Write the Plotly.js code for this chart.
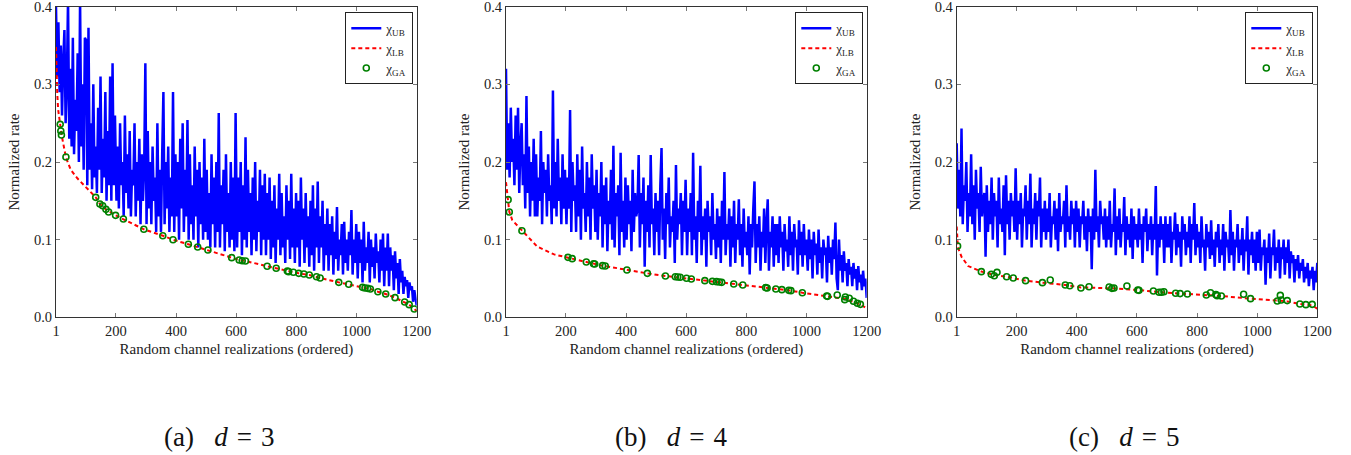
<!DOCTYPE html>
<html>
<head>
<meta charset="utf-8">
<script src="https://cdn.plot.ly/plotly-3.0.1.min.js"></script>
<style>
  html, body { margin: 0; padding: 0; background: #ffffff; }
  #chart { width: 1351px; height: 455px; }
  #chart svg text, #chart svg tspan { font-family: 'Liberation Serif', 'Times New Roman', Times, serif !important; }
</style>
</head>
<body>
<div id="chart"></div>
<script>
// ---------------- data ----------------
const xTicks = [1, 200, 400, 600, 800, 1000, 1200];
const yTicks = [0, 0.1, 0.2, 0.3, 0.4];
const xTitle = 'Random channel realizations (ordered)';
const yTitle = 'Normalized rate';
const captions = ['(a)', '(b)', '(c)'];
const dValues = [3, 4, 5];
const seriesNames = ['χ<sub>UB</sub>', 'χ<sub>LB</sub>', 'χ<sub>GA</sub>'];

// d = 3 : upper bound sampled along the ordered realizations 1..1200
const ub3 = [
0.40,0.31,0.38,0.29,0.35,0.26,0.33,0.37,0.25,0.30,0.41,0.23,0.32,0.22,0.36,0.21,0.28,0.24,0.34,0.20,0.41,0.22,0.30,0.19,0.36,
0.357,0.17,0.373,0.19,0.25,0.165,0.30,0.18,0.22,0.16,0.27,0.19,0.31,0.16,0.23,0.18,0.29,0.15,0.24,0.17,0.31,0.15,0.327,0.17,0.26,
0.15,0.22,0.14,0.25,0.17,0.20,0.13,0.26,0.16,0.21,0.14,0.24,0.13,0.19,0.17,0.25,0.13,0.20,0.15,0.23,0.12,0.21,0.15,0.19,0.327,
0.12,0.24,0.14,0.20,0.12,0.22,0.15,0.18,0.11,0.25,0.13,0.19,0.11,0.21,0.29,0.12,0.20,0.14,0.22,0.11,0.18,0.13,0.29,0.11,0.21,
0.13,0.20,0.10,0.23,0.14,0.25,0.11,0.19,0.13,0.254,0.10,0.21,0.12,0.17,0.10,0.22,0.13,0.19,0.09,0.20,0.12,0.18,0.10,0.23,0.11,
0.19,0.10,0.16,0.09,0.21,0.12,0.18,0.09,0.20,0.11,0.263,0.09,0.17,0.12,0.19,0.085,0.21,0.11,0.16,0.09,0.20,0.10,0.18,0.085,0.263,
0.09,0.18,0.11,0.20,0.08,0.17,0.10,0.232,0.09,0.19,0.11,0.16,0.08,0.18,0.10,0.20,0.085,0.15,0.11,0.19,0.08,0.17,0.10,0.185,0.08,
0.16,0.10,0.18,0.075,0.15,0.09,0.17,0.07,0.14,0.10,0.185,0.08,0.16,0.09,0.13,0.07,0.17,0.10,0.15,0.075,0.185,0.09,0.14,0.07,0.16,
0.09,0.15,0.065,0.18,0.10,0.14,0.07,0.16,0.09,0.13,0.065,0.15,0.08,0.17,0.06,0.14,0.09,0.175,0.07,0.13,0.09,0.15,0.06,0.12,0.08,
0.14,0.06,0.12,0.08,0.13,0.055,0.11,0.075,0.142,0.06,0.10,0.08,0.12,0.055,0.123,0.07,0.10,0.06,0.11,0.08,0.138,0.055,0.10,0.07,0.12,
0.05,0.11,0.07,0.10,0.045,0.123,0.06,0.09,0.07,0.11,0.045,0.10,0.065,0.09,0.05,0.108,0.07,0.085,0.045,0.10,0.06,0.108,0.04,0.09,0.06,
0.108,0.04,0.09,0.06,0.08,0.035,0.085,0.05,0.07,0.03,0.075,0.045,0.06,0.03,0.052,0.04,0.048,0.025,0.045,0.035,0.04,0.02,0.035,0.025,0.015];
const lbX3 = [1,3,5,8,14,20,34,50,72,105,133,147,167,199,225,293,356,390,441,472,506,585,610,631,703,733,770,808,843,879,941,974,1020,1046,1071,1097,1128,1160,1175,1192,1200];
const lbY3 = [0.348,0.31,0.29,0.268,0.25,0.234,0.206,0.19,0.179,0.166,0.1545,0.1459,0.139,0.1313,0.1266,0.1133,0.1051,0.0999,0.094,0.0905,0.0867,0.0768,0.0738,0.0725,0.0657,0.0631,0.0596,0.0566,0.0545,0.0506,0.045,0.0425,0.0386,0.0364,0.033,0.030,0.0253,0.0197,0.0163,0.0107,0.008];
const gaX3 = [15,17,19,34,133,147,156,167,176,199,225,293,356,390,441,472,506,585,610,620,631,703,733,770,774,790,808,825,843,867,879,941,974,1020,1028,1037,1046,1071,1097,1128,1160,1175,1192];
const gaY3 = [0.2485,0.240,0.2347,0.2064,0.1545,0.1459,0.1437,0.139,0.1356,0.1313,0.1266,0.1133,0.1051,0.0999,0.094,0.0905,0.0867,0.0768,0.0738,0.0729,0.0725,0.0657,0.0631,0.0596,0.0588,0.058,0.0566,0.0558,0.0545,0.0523,0.0506,0.045,0.0425,0.0386,0.0377,0.0373,0.0364,0.033,0.030,0.0253,0.0197,0.0163,0.0107];

// d = 4
const ub4 = [
0.32,0.19,0.25,0.18,0.27,0.20,0.23,0.17,0.26,0.19,0.27,0.16,0.22,0.25,0.17,0.21,0.14,0.285,0.16,0.22,0.13,0.20,0.15,0.23,0.13,
0.21,0.13,0.18,0.15,0.24,0.12,0.20,0.16,0.19,0.13,0.21,0.15,0.17,0.12,0.292,0.14,0.20,0.13,0.23,0.15,0.18,0.12,0.21,0.14,0.19,
0.12,0.18,0.14,0.267,0.11,0.20,0.15,0.17,0.11,0.21,0.13,0.19,0.10,0.22,0.14,0.16,0.11,0.20,0.13,0.18,0.10,0.21,0.14,0.17,0.11,
0.19,0.10,0.16,0.13,0.20,0.09,0.17,0.12,0.18,0.085,0.15,0.12,0.19,0.10,0.221,0.09,0.16,0.13,0.17,0.08,0.212,0.11,0.15,0.09,0.18,
0.10,0.17,0.12,0.15,0.085,0.19,0.11,0.16,0.13,0.14,0.209,0.09,0.16,0.12,0.18,0.065,0.15,0.11,0.17,0.09,0.209,0.12,0.14,0.08,0.16,
0.11,0.15,0.08,0.17,0.218,0.10,0.14,0.075,0.16,0.12,0.18,0.09,0.13,0.11,0.15,0.07,0.196,0.10,0.14,0.12,0.16,0.08,0.15,0.11,0.177,
0.08,0.14,0.11,0.16,0.08,0.212,0.10,0.13,0.07,0.15,0.11,0.195,0.08,0.13,0.10,0.14,0.065,0.15,0.11,0.13,0.08,0.16,0.10,0.12,0.075,
0.14,0.09,0.13,0.07,0.15,0.10,0.187,0.08,0.12,0.10,0.14,0.065,0.13,0.09,0.15,0.07,0.12,0.10,0.152,0.08,0.12,0.065,0.14,0.09,0.11,
0.08,0.13,0.055,0.12,0.09,0.14,0.175,0.07,0.12,0.09,0.13,0.06,0.11,0.09,0.14,0.07,0.12,0.152,0.06,0.11,0.09,0.13,0.065,0.12,0.08,
0.12,0.07,0.13,0.09,0.11,0.06,0.12,0.085,0.10,0.065,0.13,0.08,0.11,0.06,0.12,0.09,0.10,0.055,0.125,0.08,0.11,0.065,0.12,0.08,0.10,
0.06,0.113,0.075,0.10,0.05,0.11,0.08,0.095,0.055,0.113,0.07,0.09,0.05,0.10,0.08,0.09,0.045,0.105,0.07,0.09,0.055,0.10,0.075,0.122,0.05,
0.035,0.10,0.06,0.08,0.045,0.085,0.06,0.07,0.04,0.075,0.055,0.065,0.04,0.07,0.05,0.062,0.035,0.066,0.045,0.055,0.035,0.06,0.04,0.05,0.025];
const lbX4 = [1,8,12,22,54,105,161,207,268,322,403,471,531,601,662,718,788,864,941,986,1067,1129,1156,1179,1200];
const lbY4 = [0.174,0.151,0.136,0.125,0.1115,0.091,0.081,0.0772,0.0712,0.0665,0.0609,0.0566,0.0532,0.0502,0.0472,0.045,0.0416,0.038,0.0347,0.0317,0.0274,0.0235,0.020,0.0165,0.0116];
const gaX4 = [8,12,54,207,221,268,292,296,322,331,403,471,531,564,572,580,601,617,662,687,701,710,718,758,788,864,869,898,918,941,948,986,1067,1070,1102,1129,1127,1142,1156,1169,1179];
const gaY4 = [0.1515,0.1356,0.1115,0.0772,0.0755,0.0712,0.069,0.0686,0.0665,0.066,0.0609,0.0566,0.0532,0.0523,0.0519,0.0515,0.0502,0.0493,0.0472,0.0463,0.0459,0.0455,0.045,0.0429,0.0416,0.0382,0.0377,0.0364,0.0356,0.0347,0.0343,0.0317,0.0274,0.027,0.0287,0.0262,0.0227,0.0245,0.0206,0.018,0.0167];

// d = 5
const ub5 = [
0.224,0.14,0.19,0.13,0.243,0.12,0.17,0.15,0.20,0.11,0.16,0.13,0.21,0.12,0.17,0.10,0.19,0.14,0.16,0.11,0.194,0.13,0.15,0.16,0.078,
0.17,0.11,0.15,0.12,0.18,0.10,0.16,0.13,0.15,0.09,0.18,0.12,0.14,0.11,0.17,0.08,0.183,0.12,0.15,0.10,0.16,0.13,0.15,0.11,0.192,
0.10,0.15,0.12,0.16,0.09,0.14,0.13,0.17,0.10,0.15,0.12,0.185,0.09,0.14,0.12,0.16,0.10,0.15,0.13,0.18,0.09,0.14,0.11,0.15,0.10,
0.14,0.11,0.16,0.09,0.13,0.12,0.15,0.10,0.14,0.085,0.16,0.11,0.13,0.12,0.15,0.09,0.17,0.11,0.13,0.10,0.15,0.12,0.14,0.09,0.15,
0.11,0.14,0.09,0.13,0.12,0.15,0.10,0.13,0.085,0.14,0.11,0.13,0.062,0.14,0.10,0.19,0.11,0.13,0.09,0.15,0.12,0.13,0.10,0.14,0.09,
0.13,0.10,0.15,0.09,0.12,0.11,0.166,0.08,0.13,0.10,0.14,0.09,0.12,0.11,0.155,0.08,0.13,0.10,0.12,0.09,0.14,0.075,0.13,0.10,0.12,
0.09,0.14,0.10,0.12,0.07,0.13,0.11,0.14,0.085,0.12,0.10,0.13,0.08,0.12,0.10,0.169,0.054,0.12,0.09,0.13,0.10,0.12,0.07,0.13,0.09,
0.12,0.09,0.13,0.07,0.11,0.10,0.135,0.08,0.12,0.09,0.11,0.065,0.13,0.10,0.12,0.08,0.11,0.09,0.13,0.07,0.12,0.10,0.147,0.08,0.12,
0.09,0.11,0.07,0.13,0.09,0.10,0.06,0.12,0.09,0.11,0.075,0.125,0.08,0.10,0.065,0.11,0.09,0.12,0.07,0.10,0.08,0.12,0.06,0.11,0.09,
0.10,0.07,0.138,0.08,0.11,0.06,0.10,0.09,0.12,0.07,0.10,0.08,0.115,0.06,0.10,0.085,0.13,0.055,0.10,0.08,0.11,0.07,0.10,0.06,0.11,
0.07,0.113,0.06,0.09,0.08,0.10,0.042,0.09,0.07,0.108,0.05,0.09,0.08,0.113,0.06,0.09,0.07,0.10,0.05,0.09,0.075,0.10,0.055,0.09,0.07,
0.10,0.05,0.085,0.07,0.08,0.045,0.075,0.06,0.08,0.05,0.07,0.06,0.075,0.045,0.065,0.05,0.07,0.04,0.06,0.05,0.065,0.035,0.06,0.045,0.07];
const lbX5 = [1,3,5,17,39,83,126,167,230,286,362,414,517,603,674,768,831,881,978,1067,1100,1142,1183,1200];
const lbY5 = [0.117,0.10,0.09,0.078,0.066,0.059,0.0545,0.0523,0.0472,0.0446,0.0416,0.0385,0.0373,0.0352,0.0325,0.030,0.0287,0.0274,0.024,0.021,0.0205,0.0172,0.0155,0.011];
const gaX5 = [4,83,116,126,135,167,189,230,286,312,362,377,414,441,508,517,524,567,603,607,655,674,682,690,729,744,768,831,845,863,867,881,955,978,1067,1077,1080,1100,1142,1162,1183];
const gaY5 = [0.0918,0.0588,0.0553,0.0536,0.0579,0.0523,0.0506,0.0472,0.0446,0.048,0.0416,0.0407,0.0377,0.0394,0.039,0.0373,0.0377,0.0403,0.0352,0.0347,0.0339,0.0322,0.0322,0.033,0.0309,0.0305,0.03,0.0287,0.0317,0.0292,0.0279,0.0274,0.0296,0.024,0.021,0.0283,0.0223,0.0215,0.0172,0.0163,0.0167];

// ---------------- build the figure ----------------
const W = 1351, H = 455;
const FONT = 'Liberation Serif';
const panels = [
  {ub: ub3, lbX: lbX3, lbY: lbY3, gaX: gaX3, gaY: gaY3, left: 56, right: 416.7, legRight: 413.3, cap: 219},
  {ub: ub4, lbX: lbX4, lbY: lbY4, gaX: gaX4, gaY: gaY4, left: 506, right: 866.7, legRight: 863.3, cap: 671},
  {ub: ub5, lbX: lbX5, lbY: lbY5, gaX: gaX5, gaY: gaY5, left: 956.7, right: 1317.3, legRight: 1313.3, cap: 1124}
];
const plotTop = 6.7, plotBottom = 317.3;
const yDomain = [(H - plotBottom) / H, (H - plotTop) / H];

const traces = [];
const layout = {
  width: W, height: H,
  margin: {l: 0, r: 0, t: 0, b: 0, pad: 0},
  paper_bgcolor: '#ffffff', plot_bgcolor: '#ffffff',
  font: {family: FONT, size: 14, color: '#222222'},
  showlegend: true,
  annotations: []
};

panels.forEach((p, k) => {
  const n = k + 1;
  const xa = n === 1 ? 'x' : 'x' + n;
  const ya = n === 1 ? 'y' : 'y' + n;
  const lg = n === 1 ? 'legend' : 'legend' + n;
  const ubX = p.ub.map((_, i) => Math.round(1 + i * 1199 / (p.ub.length - 1)));

  traces.push({
    type: 'scatter', mode: 'lines', x: ubX, y: p.ub, xaxis: xa, yaxis: ya,
    name: seriesNames[0], legend: lg,
    line: {color: '#0000ff', width: 2.5, simplify: false}
  });
  traces.push({
    type: 'scatter', mode: 'lines', x: p.lbX, y: p.lbY, xaxis: xa, yaxis: ya,
    name: seriesNames[1], legend: lg,
    line: {color: '#ff0000', width: 2, dash: '4px,3px'}
  });
  traces.push({
    type: 'scatter', mode: 'markers', x: p.gaX, y: p.gaY, xaxis: xa, yaxis: ya,
    name: seriesNames[2], legend: lg,
    marker: {symbol: 'circle-open', size: 6, color: '#008000', line: {width: 1.6, color: '#008000'}}
  });

  const axKeyX = n === 1 ? 'xaxis' : 'xaxis' + n;
  const axKeyY = n === 1 ? 'yaxis' : 'yaxis' + n;
  layout[axKeyX] = {
    domain: [p.left / W, p.right / W], anchor: ya,
    range: [1, 1200], tickvals: xTicks, ticktext: xTicks.map(String),
    ticks: 'inside', ticklen: 4, tickwidth: 1, tickcolor: '#777777',
    showline: true, linecolor: '#333333', linewidth: 1, mirror: 'ticks',
    showgrid: false, zeroline: false, ticklabeloverflow: 'allow',
    tickfont: {family: FONT, size: 14.5, color: '#222222'},
    title: {text: xTitle, font: {family: FONT, size: 15, color: '#222222'}, standoff: 5}
  };
  layout[axKeyY] = {
    domain: yDomain, anchor: xa,
    range: [0, 0.4], tickvals: yTicks, tickformat: '.1f',
    ticks: 'inside', ticklen: 4, tickwidth: 1, tickcolor: '#777777',
    showline: true, linecolor: '#333333', linewidth: 1, mirror: 'ticks',
    showgrid: false, zeroline: false, ticklabeloverflow: 'allow',
    tickfont: {family: FONT, size: 14.5, color: '#222222'},
    title: {text: yTitle, font: {family: FONT, size: 15, color: '#222222'}, standoff: 10}
  };
  layout[lg] = {
    x: p.legRight / W, xanchor: 'right', xref: 'paper',
    y: (H - 12.3) / H, yanchor: 'top', yref: 'paper',
    bgcolor: '#ffffff', bordercolor: '#222222', borderwidth: 1,
    font: {family: FONT, size: 13, color: '#222222'},
    tracegroupgap: 0, itemwidth: 30
  };
  layout.annotations.push({
    xref: 'paper', yref: 'paper', x: p.cap / W, y: (H - 437) / H,
    xanchor: 'center', yanchor: 'middle', showarrow: false,
    text: captions[k] + '\u00A0\u00A0\u00A0<i>d</i>\u2004=\u2004' + dValues[k],
    font: {family: FONT, size: 27, color: '#111111'}
  });
});

Plotly.newPlot('chart', traces, layout, {staticPlot: true, displayModeBar: false});
</script>
</body>
</html>
